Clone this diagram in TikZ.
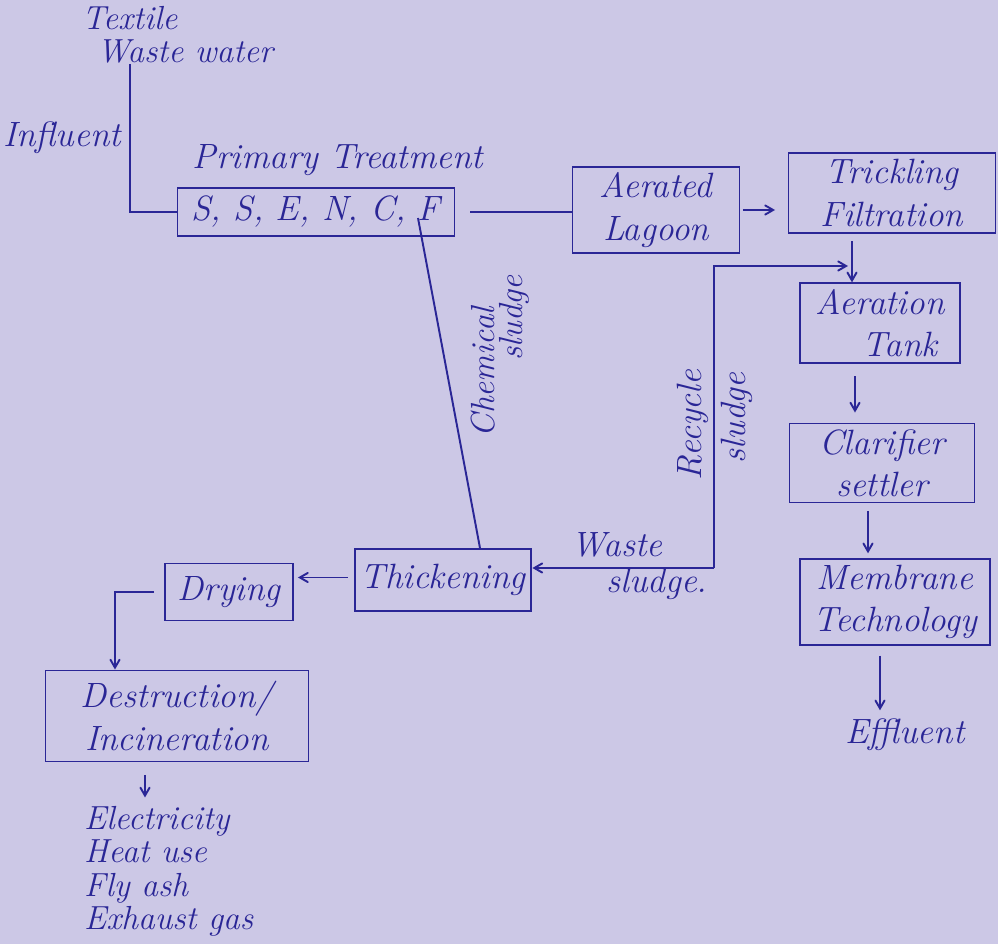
\documentclass[tikz,border=0pt]{standalone}
\usepackage{tikz}
\usetikzlibrary{shapes,arrows}
\usetikzlibrary{positioning}
\definecolor{paper}{RGB}{204,200,230}
\definecolor{ink}{RGB}{42,38,150}
\tikzstyle{arrow} = [line width=1.1pt,->,>=angle 60,draw=ink]
\tikzstyle{link} = [line width=1.1pt,draw=ink]
\tikzstyle{stage} = [
    rectangle, text centered, align=center, draw=ink, line width=1.1pt,
    text=ink, font=\fontsize{20}{24}\selectfont\itshape]
\tikzstyle{note} = [text=ink, font=\fontsize{20}{24}\selectfont\itshape]

\begin{document}
\begin{tikzpicture}[x=0.2mm,y=-0.2mm]
\fill[paper] (0,0) rectangle (998,944);
\useasboundingbox (0,0) rectangle (998,944);

\node (textile) [note, anchor=north west, align=left, font=\fontsize{19}{19}\selectfont\itshape] at (76,0) {
    Textile \\
    \hspace*{0.3cm}Waste water
};
\node (influent) [note] at (62,138) {Influent};
\node (primary-title) [note] at (338,160) {Primary Treatment};

\node (primary) [stage, minimum width=5.54cm, minimum height=0.96cm] at (316,212) {S,\ S,\ E,\ N,\ C,\ F};
\node (lagoon) [stage, minimum width=3.34cm, minimum height=1.4cm] at (656,210) {
    Aerated \\
    Lagoon
};
\node (trickling) [stage, minimum width=4.14cm, minimum height=1.6cm] at (892,193) {
    Trickling \\
    Filtration
};
\node (aeration) [stage, minimum width=3.2cm, minimum height=1.48cm] at (880,323) {
    Aeration \\
    \hspace*{0.8cm}Tank
};
\node (clarifier) [stage, minimum width=3.7cm, minimum height=1.54cm] at (882,463) {
    Clarifier \\
    settler
};
\node (membrane) [stage, minimum width=3.8cm, minimum height=1.7cm] at (895,602) {
    Membrane \\
    Technology
};
\node (effluent) [note] at (905,735) {Effluent};

\node (thickening) [stage, minimum width=3.3cm, minimum height=1.24cm] at (443,580) {Thickening};
\node (drying) [stage, minimum width=2.56cm, minimum height=1.14cm] at (229,592) {Drying};
\node (destruction) [stage, minimum width=5.26cm, minimum height=1.82cm] at (177,716) {
    Destruction/ \\
    Incineration
};
\node (outputs) [note, anchor=north west, align=left, font=\fontsize{19}{19}\selectfont\itshape] at (78,800) {
    Electricity \\
    Heat use \\
    Fly ash \\
    Exhaust gas
};

\node (chemical-label) [note, rotate=90, font=\fontsize{19}{21}\selectfont\itshape] at (483,372) {Chemical};
\node (chemical-sludge) [note, rotate=90, font=\fontsize{19}{21}\selectfont\itshape] at (514,318) {sludge};
\node (recycle-label) [note, rotate=90] at (693,425) {Recycle};
\node (recycle-sludge) [note, rotate=90] at (737,418) {sludge};
\node (waste-label) [note] at (617,545) {Waste};
\node (waste-sludge) [note] at (657,584) {sludge.};

\coordinate (influent-top) at (130,64);
\coordinate (chemical-top) at (418,218);
\coordinate (waste-corner) at (714,568);
\coordinate (recycle-end) at (848,266);

\draw [link] (influent-top) |- (primary.west);
\draw [link, shorten <=0.3cm] (primary.east) -- (primary.east -| lagoon.west);
\draw [arrow, shorten <=0.05cm, shorten >=0.25cm] (lagoon.east) -- (lagoon.east -| trickling.west);
\draw [arrow, shorten <=0.15cm] ([xshift=-0.8cm]trickling.south) -- ([xshift=-0.8cm]trickling.south |- aeration.north);
\draw [arrow, shorten <=0.25cm, shorten >=0.2cm] ([xshift=-0.5cm]aeration.south) -- ([xshift=-0.5cm]aeration.south |- clarifier.north);
\draw [arrow, shorten <=0.15cm, shorten >=0.1cm] ([xshift=-0.28cm]clarifier.south) -- ([xshift=-0.28cm]clarifier.south |- membrane.north);
\draw [arrow, shorten <=0.2cm, shorten >=0.05cm] ([xshift=-0.3cm]membrane.south) -- ([xshift=-0.3cm]membrane.south |- effluent.north);
\draw [arrow] (waste-corner) |- (recycle-end);
\draw [arrow] (waste-corner) -- (waste-corner -| thickening.east);
\draw [link] (chemical-top) -- ([xshift=0.74cm]thickening.north);
\draw [arrow, shorten <=0.12cm, shorten >=0.08cm] ([yshift=0.05cm]thickening.west) -- ([yshift=0.05cm]thickening.west -| drying.east);
\draw [arrow] ([xshift=-0.2cm]drying.west) -| ([xshift=-1.24cm]destruction.north);
\draw [arrow, shorten <=0.25cm, shorten >=0.05cm] ([xshift=-0.64cm]destruction.south) -- ([xshift=-0.64cm]destruction.south |- outputs.north);
\end{tikzpicture}
\end{document}
